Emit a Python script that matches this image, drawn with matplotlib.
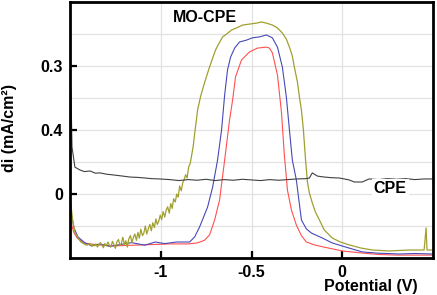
import numpy as np
import matplotlib
matplotlib.use("Agg")
import matplotlib.pyplot as plt

plt.rcParams['font.family'] = ['Liberation Sans', 'DejaVu Sans']
plt.rcParams['font.weight'] = 'bold'

# Potential (V) and current (plot units)
red_x = [-1.495, -1.48, -1.46, -1.42, -1.35, -1.25, -1.1, -0.95, -0.85, -0.8, -0.76, -0.731,
         -0.703, -0.676, -0.648, -0.621, -0.604, -0.588, -0.555, -0.511, -0.467, -0.418,
         -0.401, -0.385, -0.357, -0.335, -0.319, -0.302, -0.28, -0.253, -0.225, -0.198,
         -0.154, -0.1, -0.05, 0.0, 0.1, 0.2, 0.3, 0.5]
red_y = [-0.875, -1.19, -1.38, -1.53, -1.59, -1.62, -1.59, -1.56, -1.56, -1.53, -1.45, -1.28,
         -0.81, -0.19, 1.06, 2.31, 2.94, 3.66, 4.19, 4.44, 4.56, 4.59,
         4.56, 4.41, 3.72, 2.56, 1.22, 0.125, -0.5, -0.97, -1.3, -1.5,
         -1.59, -1.66, -1.72, -1.78, -1.84, -1.89, -1.91, -1.91]

blue_x = [-1.495, -1.478, -1.456, -1.418, -1.38, -1.335, -1.28, -1.225, -1.16, -1.088, -1.03,
          -0.978, -0.912, -0.841, -0.813, -0.786, -0.742, -0.714, -0.687, -0.665, -0.648,
          -0.632, -0.615, -0.593, -0.566, -0.527, -0.495, -0.456, -0.418, -0.385, -0.357,
          -0.33, -0.308, -0.291, -0.275, -0.253, -0.225, -0.198, -0.17, -0.11, -0.055,
          0.038, 0.11, 0.2, 0.313, 0.4, 0.495]
blue_y = [-0.56, -1.06, -1.34, -1.53, -1.62, -1.56, -1.64, -1.58, -1.52, -1.6, -1.5,
          -1.55, -1.5, -1.5, -1.34, -1.03, -0.41, 0.22, 1.06, 2.0, 3.09,
          3.88, 4.28, 4.56, 4.75, 4.81, 4.88, 4.91, 4.97, 4.88, 4.59,
          3.97, 3.03, 2.0, 1.06, 0.44, -0.81, -1.09, -1.22, -1.375, -1.53,
          -1.69, -1.81, -1.85, -1.875, -1.86, -1.875]

olive_x = [-1.495, -1.484, -1.473, -1.456, -1.44, -1.423, -1.407, -1.39, -1.38, -1.374, -1.365,
           -1.357, -1.349, -1.341, -1.332, -1.324, -1.316, -1.308, -1.3, -1.291, -1.283,
           -1.275, -1.266, -1.258, -1.25, -1.242, -1.233, -1.225, -1.217, -1.209, -1.2,
           -1.192, -1.184, -1.176, -1.167, -1.159, -1.151, -1.143, -1.134, -1.126, -1.118,
           -1.11, -1.101, -1.093, -1.085, -1.077, -1.068, -1.06, -1.052, -1.044, -1.035,
           -1.027, -1.019, -1.011, -1.003, -0.995, -0.987, -0.978, -0.97, -0.962, -0.953,
           -0.945, -0.937, -0.929, -0.92, -0.912, -0.904, -0.896, -0.887, -0.879, -0.871,
           -0.863, -0.855, -0.846, -0.838, -0.83, -0.821, -0.813, -0.805, -0.797,
           -0.78, -0.764, -0.747, -0.731, -0.714, -0.698, -0.681,
           -0.659, -0.637, -0.61, -0.582, -0.549, -0.511, -0.473, -0.445, -0.418, -0.385,
           -0.357, -0.33, -0.308, -0.291, -0.275, -0.264, -0.247, -0.236, -0.225, -0.214,
           -0.203, -0.192, -0.181, -0.165, -0.148, -0.126, -0.099, -0.055, -0.011, 0.038,
           0.104, 0.165, 0.258, 0.368, 0.451, 0.462, 0.467, 0.495]
olive_y = [-0.34, -0.875, -1.19, -1.375, -1.5, -1.56, -1.6, -1.55, -1.64, -1.57, -1.62,
           -1.56, -1.66, -1.58, -1.52, -1.6, -1.68, -1.55, -1.62, -1.5, -1.6,
           -1.66, -1.48, -1.58, -1.7, -1.5, -1.42, -1.6, -1.55, -1.35, -1.58,
           -1.46, -1.66, -1.4, -1.3, -1.52, -1.36, -1.25, -1.45, -1.2, -1.38,
           -1.1, -1.3, -1.22, -1.0, -1.25, -1.08, -0.95, -1.15, -0.9, -1.05,
           -0.78, -0.95, -0.85, -0.66, -0.8, -0.55, -0.72, -0.5, -0.4, -0.6,
           -0.3, -0.45, -0.15, -0.25, 0.0, -0.1, 0.25, 0.1, 0.35, 0.45,
           0.6, 0.5, 0.85, 0.95, 1.2, 1.5, 1.9, 2.25, 2.625,
           3.06, 3.375, 3.69, 3.97, 4.25, 4.5, 4.69,
           4.91, 5.0, 5.125, 5.19, 5.28, 5.31, 5.34, 5.375, 5.34, 5.28,
           5.19, 5.03, 4.84, 4.59, 4.31, 3.97, 3.5, 3.03, 2.625, 2.0,
           1.125, 0.375, 0.03, -0.28, -0.56, -0.81, -1.125, -1.375, -1.5, -1.59,
           -1.69, -1.75, -1.78, -1.75, -1.75, -1.06, -1.75, -1.75]

cpe_x = [-1.495, -1.489, -1.473, -1.445, -1.42, -1.39, -1.36, -1.335, -1.3, -1.253, -1.21,
         -1.17, -1.13, -1.088, -1.05, -1.005, -0.95, -0.9, -0.85, -0.8, -0.75, -0.7,
         -0.65, -0.6, -0.55, -0.5, -0.45, -0.4, -0.35, -0.3, -0.25, -0.2, -0.181,
         -0.165, -0.137, -0.099, -0.06, -0.016, 0.038, 0.066, 0.11, 0.148, 0.2, 0.25,
         0.3, 0.35, 0.4, 0.45, 0.495]
cpe_y = [3.25, 1.47, 0.84, 0.75, 0.7, 0.72, 0.65, 0.66, 0.62, 0.59, 0.56,
         0.53, 0.52, 0.5, 0.48, 0.47, 0.45, 0.42, 0.45, 0.43, 0.46, 0.42,
         0.45, 0.43, 0.46, 0.44, 0.42, 0.45, 0.43, 0.45, 0.47, 0.48, 0.5,
         0.66, 0.56, 0.53, 0.51, 0.5, 0.44, 0.375, 0.375, 0.47, 0.45, 0.48,
         0.46, 0.48, 0.45, 0.47, 0.47]

ytick_pos = [0, 2, 4]
ytick_labels = ['0', '0.4', '0.3']
xtick_pos = [-1, -0.5, 0]
xtick_labels = ['-1', '-0.5', '0']

fig = plt.figure(figsize=(4.37, 2.95), dpi=100)
ax = fig.add_axes([70 / 437, 37 / 295, 363 / 437, 256 / 295])

ax.plot(red_x, red_y, color='#ff5050', lw=0.8)
ax.plot(blue_x, blue_y, color='#4848b8', lw=0.8)
ax.plot(olive_x, olive_y, color='#a0a030', lw=0.9)
ax.plot(cpe_x, cpe_y, color='#404040', lw=0.8)

ax.set_xlim(-1.5, 0.5)
ax.set_ylim(-2, 6)
ax.set_xticks(xtick_pos)
ax.set_xticklabels(xtick_labels)
ax.set_yticks(ytick_pos)
ax.set_yticklabels(ytick_labels)
ax.set_yticks(np.arange(-1, 6), minor=True)
ax.grid(True, which='major', color='#e2e2e2', lw=0.9)
ax.grid(True, which='minor', axis='y', color='#e2e2e2', lw=0.9)
ax.set_axisbelow(True)

ax.tick_params(which='major', direction='in', length=5, width=1.6, labelsize=11.5, pad=5)
ax.tick_params(which='minor', length=0)
for s in ax.spines.values():
    s.set_linewidth(2.0)

ax.text(-0.758, 5.5, 'MO-CPE', fontsize=11.5, fontweight='bold', ha='center', va='center')
ax.text(0.264, 0.17, 'CPE', fontsize=11.5, fontweight='bold', ha='center', va='center',
        bbox=dict(facecolor='white', edgecolor='none', pad=1.5))

fig.text(371 / 437, 1 - 287 / 295, 'Potential (V)', fontsize=11.5, fontweight='bold',
         ha='center', va='center')
fig.text(10 / 437, 1 - 128 / 295, 'di (mA/cm²)', fontsize=11.5, fontweight='bold',
         ha='center', va='center', rotation=90)

fig.savefig('out.png', dpi=100)
